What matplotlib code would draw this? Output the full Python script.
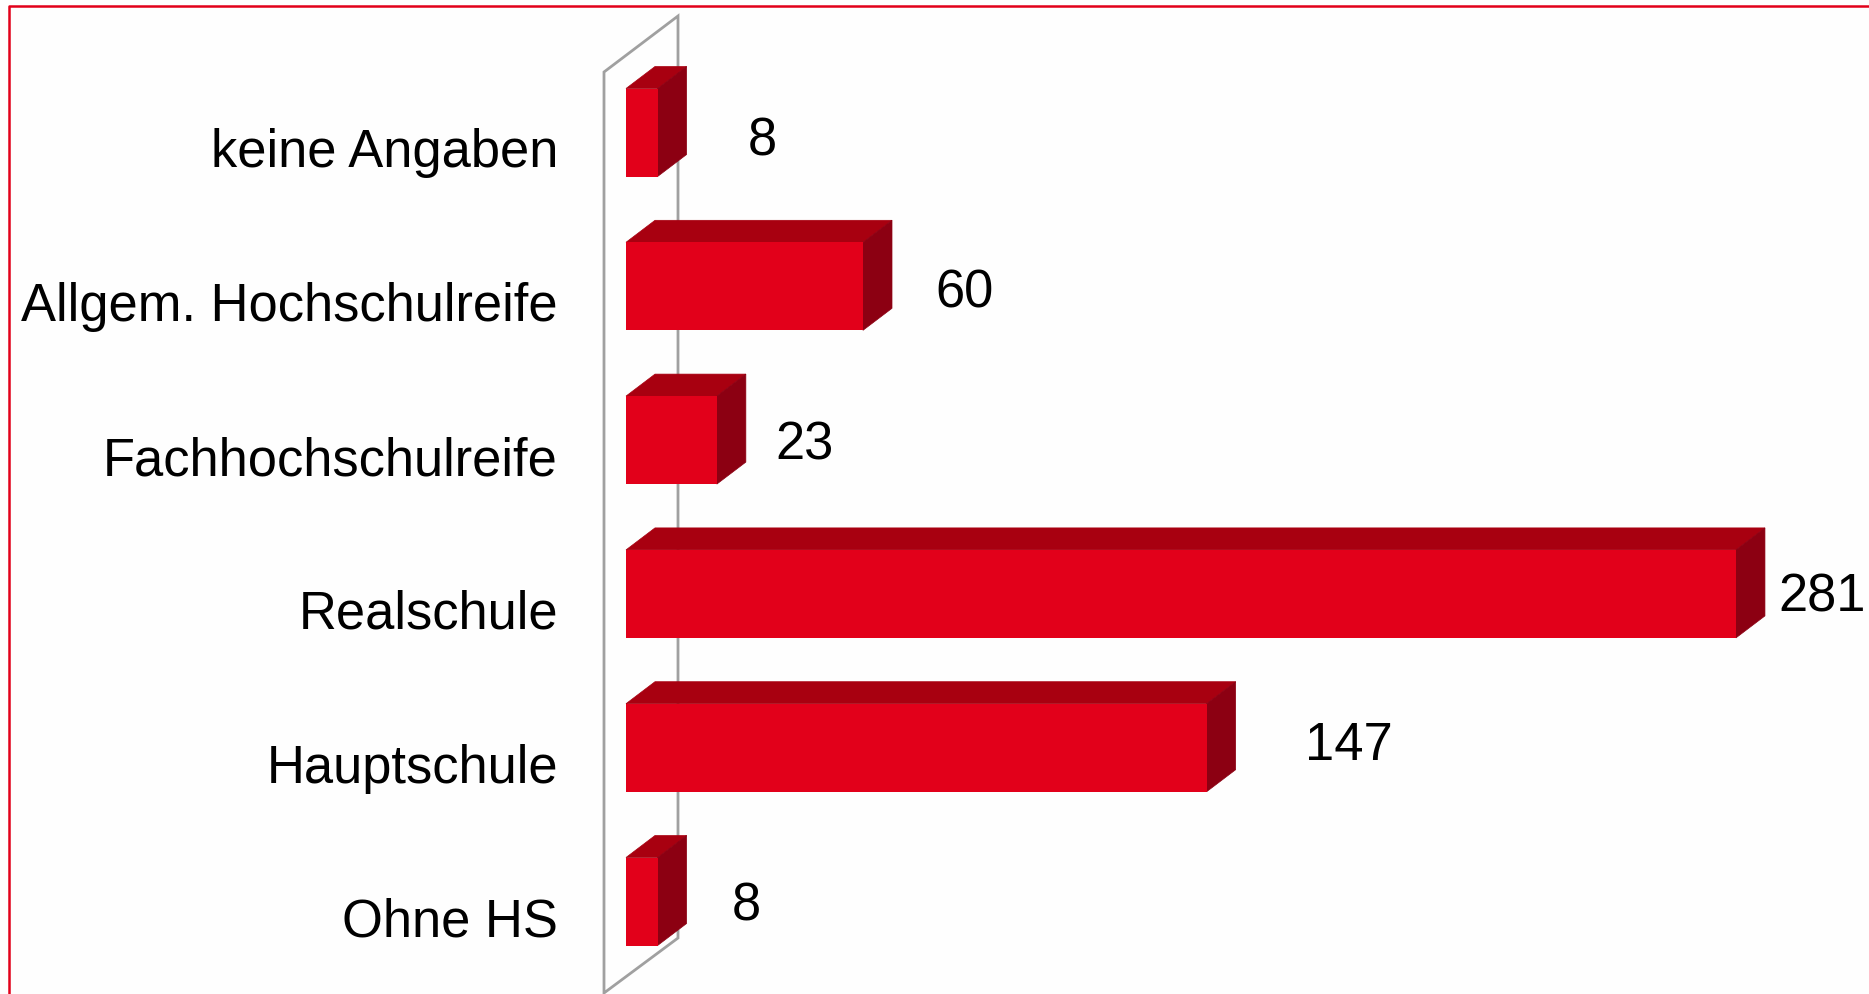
import matplotlib
matplotlib.use('Agg')
import matplotlib.pyplot as plt
from matplotlib.patches import Polygon

# bottom to top, like the bars on the y axis
labels = ['Ohne HS', 'Hauptschule', 'Realschule', 'Fachhochschulreife', 'Allgem. Hochschulreife', 'keine Angaben']
values = [8, 147, 281, 23, 60, 8]
value_text = ['8', '147', '281', '23', '60', '8']

# centres of the value labels, in picture pixels
label_px_x = [746, 1349, 1822, 804, 965, 762]
label_px_y = [907, 746, 598, 446, 294, 141]

W, H = 1869, 995
X0 = 626.0      # pixel of value 0
PX_VAL = 3.95   # pixels per value
Y0 = 902.5      # pixel of bar centre 0
PX_CAT = 153.8  # pixels per category

RED = '#E2001A'
TOP = '#A80010'
SIDE = '#8C0012'
GREY = '#A0A0A0'

plt.rcParams['font.family'] = ['Liberation Sans', 'DejaVu Sans']

fig = plt.figure(figsize=(W / 100, H / 100), dpi=100, facecolor='#FEFEFE')
ax = fig.add_axes([0, 0, 1, 1])
ax.set_xlim(-X0 / PX_VAL, (W - X0) / PX_VAL)
ax.set_ylim((Y0 - H) / PX_CAT, Y0 / PX_CAT)
ax.axis('off')


def px(x, y):
    return (x - X0) / PX_VAL, (Y0 - y) / PX_CAT


# back wall of the 3d box
wall = [px(604, 994), px(604, 73), px(678, 17), px(678, 939)]
ax.add_patch(Polygon(wall, closed=True, fill=False, edgecolor=GREY, lw=2, zorder=1))

bar_h = 88 / PX_CAT
dx = 29 / PX_VAL
dy = 22 / PX_CAT

ypos = list(range(len(values)))
ax.barh(ypos, values, height=bar_h, color=RED, lw=0, zorder=3)
for y, v in zip(ypos, values):
    t = y + bar_h / 2
    b = y - bar_h / 2
    ax.add_patch(Polygon([(0, t), (v, t), (v + dx, t + dy), (dx, t + dy)], fc=TOP, ec=TOP, lw=0.5, zorder=2))
    ax.add_patch(Polygon([(v, b), (v, t), (v + dx, t + dy), (v + dx, b + dy)], fc=SIDE, ec=SIDE, lw=0.5, zorder=2))

for y, name in zip(ypos, labels):
    x_t, y_t = px(558, Y0 - y * PX_CAT + 20)
    ax.text(x_t, y_t, name, ha='right', va='center', fontsize=37.8, color='black')

for s, lx, ly in zip(value_text, label_px_x, label_px_y):
    x_t, y_t = px(lx, ly)
    ax.text(x_t, y_t, s, ha='center', va='center', fontsize=37.8, color='black')

# red frame, only top and left are visible
ax.plot(*zip(px(9, H), px(9, 7), px(W, 7)), color=RED, lw=1.8, zorder=5)

fig.savefig('out.png', dpi=100, facecolor=fig.get_facecolor())
